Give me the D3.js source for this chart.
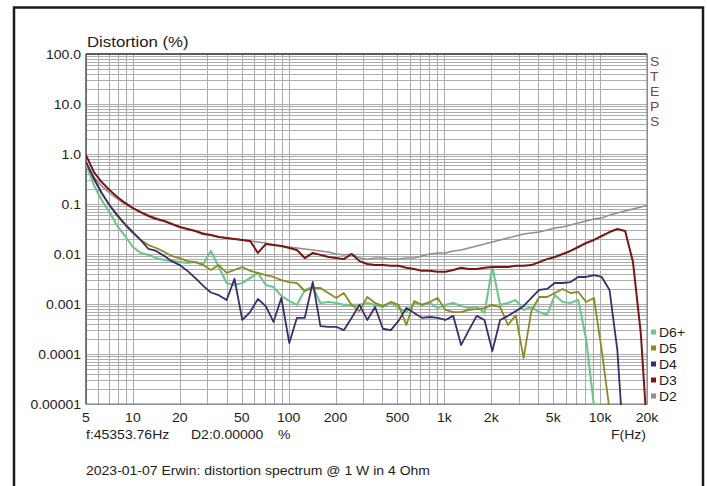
<!DOCTYPE html>
<html>
<head>
<meta charset="utf-8">
<script src="https://cdn.jsdelivr.net/npm/d3@7"></script>
<style>
  body { margin: 0; background: #fff; }
  svg text { font-family: "Liberation Sans", Arial, sans-serif; fill: #1c1c1c; }
</style>
</head>
<body>
<svg id="chart" width="707" height="486"></svg>
<script>
// NOTE: fundamental frequencies of the stepped sine (Hz)
const freqs = [5, 5.61, 6.30, 7.07, 7.94, 8.91, 10, 11.2, 12.6, 14.1, 15.9, 17.8, 20, 22.4, 25.2, 28.3, 31.7, 35.6, 40, 44.9,
  50.4, 56.6, 63.5, 71.3, 80, 89.8, 101, 113, 127, 143, 160, 180, 202, 226, 254, 285, 320, 359, 403, 453,
  508, 570, 640, 718, 806, 905, 1016, 1140, 1280, 1437, 1613, 1810, 2032, 2281, 2560, 2874, 3225, 3620, 4064, 4561,
  5120, 5747, 6451, 7241, 8127, 9123, 10240, 11494, 12902, 14482, 16255, 18246, 20480]

// NOTE: distortion per harmonic (%)
const d2 = [0.66, 0.35, 0.23, 0.166, 0.126, 0.10, 0.083, 0.069, 0.060, 0.0525,
  0.0457, 0.0398, 0.0347, 0.0316, 0.0288, 0.0263, 0.0240, 0.0219, 0.0209, 0.0200,
  0.0191, 0.0182, 0.0174, 0.0166, 0.0151, 0.0145, 0.0138, 0.0132, 0.0126, 0.0120,
  0.0115, 0.0110, 0.0100, 0.0096, 0.0100, 0.0083, 0.0079, 0.0083, 0.0083, 0.0079,
  0.0079, 0.0083, 0.0083, 0.0091, 0.0100, 0.0105, 0.0105, 0.0115, 0.0120, 0.0132,
  0.0145, 0.0158, 0.0174, 0.0191, 0.0209, 0.0229, 0.0251, 0.0263, 0.0275, 0.0302,
  0.0331, 0.0347, 0.0380, 0.0417, 0.0457, 0.0501, 0.0525, 0.060, 0.0661, 0.0724,
  0.0794, 0.0871, 0.0955]
const d3v = [0.95, 0.44, 0.275, 0.191, 0.138, 0.105, 0.083, 0.069, 0.0575, 0.0501,
  0.0457, 0.0398, 0.0347, 0.0316, 0.0288, 0.0251, 0.0240, 0.0219, 0.0209, 0.0200,
  0.0191, 0.0182, 0.0105, 0.0158, 0.0151, 0.0145, 0.0132, 0.0120, 0.0083, 0.0105,
  0.0096, 0.0087, 0.0083, 0.0079, 0.0100, 0.0072, 0.0063, 0.0060, 0.0060, 0.0058,
  0.0058, 0.0053, 0.0050, 0.0046, 0.0046, 0.0044, 0.0044, 0.0048, 0.0053, 0.0050,
  0.0050, 0.0053, 0.0055, 0.0055, 0.0055, 0.0058, 0.0058, 0.0060, 0.0069, 0.0079,
  0.0087, 0.0100, 0.0115, 0.0138, 0.0166, 0.0191, 0.0229, 0.0275, 0.0316, 0.0288,
  0.0069, 0.00026, 0.000001]
const d4 = [0.69, 0.331, 0.166, 0.0955, 0.060, 0.0398, 0.0275, 0.0191, 0.0126, 0.0115,
  0.0091, 0.0072, 0.0060, 0.0046, 0.0033, 0.0023, 0.0017, 0.0015, 0.0012, 0.0032,
  0.00048, 0.00069, 0.00126, 0.00091, 0.00044, 0.00132, 0.000166, 0.00053, 0.00053, 0.00275,
  0.00036, 0.00035, 0.00035, 0.00030, 0.00053, 0.00096, 0.00048, 0.00087, 0.00032, 0.00030,
  0.00046, 0.00083, 0.00066, 0.00053, 0.00055, 0.00053, 0.00048, 0.00058, 0.000151, 0.00030,
  0.00058, 0.00048, 0.000115, 0.00048, 0.00058, 0.00072, 0.00091, 0.00132, 0.00191, 0.0020,
  0.00263, 0.00263, 0.00275, 0.00347, 0.00347, 0.0038, 0.00347, 0.0019, 0.00012, 0.0000005,
  0.0000001, 0.0000001, 0.0000001]
const d5 = [0.69, 0.316, 0.166, 0.0955, 0.0575, 0.0380, 0.0263, 0.0191, 0.0151, 0.0132,
  0.0110, 0.0091, 0.0083, 0.0072, 0.0069, 0.0060, 0.0048, 0.0060, 0.0042, 0.0048,
  0.0055, 0.0046, 0.0042, 0.0038, 0.00347, 0.0030, 0.00275, 0.00263, 0.00182, 0.00209,
  0.00209, 0.00166, 0.00132, 0.00166, 0.00096, 0.00072, 0.00138, 0.00105, 0.00091, 0.0011,
  0.00096, 0.00038, 0.00115, 0.00096, 0.0011, 0.00132, 0.00076, 0.00069, 0.00069, 0.00076,
  0.00079, 0.00083, 0.00096, 0.00087, 0.00038, 0.0006, 0.000083, 0.00072, 0.00138, 0.00138,
  0.00166, 0.0020, 0.00166, 0.00174, 0.0011, 0.00132, 0.00012, 0.0000076, 0.0000001, 0.0000001,
  0.0000001, 0.0000001, 0.0000001]
const d6 = [0.63, 0.24, 0.12, 0.069, 0.0363, 0.0229, 0.0138, 0.0105, 0.0096, 0.0083,
  0.0076, 0.0072, 0.0069, 0.0066, 0.0069, 0.0063, 0.0115, 0.0055, 0.00263, 0.0024,
  0.00263, 0.00331, 0.00417, 0.0024, 0.00219, 0.00145, 0.00115, 0.00096, 0.00191, 0.00219,
  0.00105, 0.0011, 0.00105, 0.00096, 0.00096, 0.00096, 0.00105, 0.00096, 0.00087, 0.00105,
  0.00083, 0.00069, 0.00105, 0.00096, 0.00105, 0.00083, 0.00096, 0.00105, 0.00091, 0.00083,
  0.00087, 0.00066, 0.0055, 0.00096, 0.00105, 0.0012, 0.00076, 0.00087, 0.00069, 0.0006,
  0.00151, 0.0011, 0.00105, 0.0012, 0.0002, 0.0000095, 0.0000001, 0.0000001, 0.0000001, 0.0000001,
  0.0000001, 0.0000001, 0.0000001]

const legendNames = ['D6+', 'D5', 'D4', 'D3', 'D2']
const xTickValues = [5, 10, 20, 50, 100, 200, 500, 1000, 2000, 5000, 10000, 20000]
const xTickLabels = ['5', '10', '20', '50', '100', '200', '500', '1k', '2k', '5k', '10k', '20k']
const yTickValues = [100, 10, 1, 0.1, 0.01, 0.001, 0.0001, 0.00001]
const yTickLabels = ['100.0', '10.0', '1.0', '0.1', '0.01', '0.001', '0.0001', '0.00001']

const svg = d3.select('#chart')
const plotLeft = 86, plotRight = 647, plotTop = 54, plotBottom = 404
// NOTE: the original screenshot is a bit stretched horizontally
const SX = 1.12

const x = d3.scaleLog().domain([5, 20000]).range([plotLeft, plotRight])
const y = d3.scaleLog().domain([0.00001, 100]).range([plotBottom, plotTop])

const label = (str, px, py, size, anchor = 'start', fill = null) => {
  const t = svg.append('text')
    .attr('transform', `translate(${px},${py}) scale(${SX},1)`)
    .attr('text-anchor', anchor)
    .attr('font-size', size)
    .text(str)
  if (fill) t.style('fill', fill)
  return t
}

// NOTE: outer frame
svg.append('rect')
  .attr('x', 14).attr('y', 7.5).attr('width', 689).attr('height', 500)
  .attr('fill', 'none').attr('stroke', '#1a1a1a').attr('stroke-width', 2.5)

// NOTE: grid
const grid = svg.append('g')
grid.selectAll('line.gx').data(x.ticks()).join('line')
  .attr('class', 'gx')
  .attr('x1', d => Math.round(x(d)) + 0.5).attr('x2', d => Math.round(x(d)) + 0.5)
  .attr('y1', plotTop).attr('y2', plotBottom)
  .attr('stroke', '#ababab').attr('stroke-width', 1)
grid.selectAll('line.gy').data(y.ticks()).join('line')
  .attr('class', 'gy')
  .attr('x1', plotLeft).attr('x2', plotRight)
  .attr('y1', d => Math.round(y(d)) + 0.5).attr('y2', d => Math.round(y(d)) + 0.5)
  .attr('stroke', '#adadad').attr('stroke-width', 1)

svg.append('rect')
  .attr('x', plotLeft).attr('y', plotTop).attr('width', plotRight - plotLeft).attr('height', plotBottom - plotTop)
  .attr('fill', 'none').attr('stroke', '#777').attr('stroke-width', 1)
svg.append('line')
  .attr('x1', plotLeft).attr('x2', plotRight).attr('y1', plotTop).attr('y2', plotTop)
  .attr('stroke', '#444').attr('stroke-width', 1.5)
svg.append('line')
  .attr('x1', plotLeft).attr('x2', plotLeft).attr('y1', plotTop).attr('y2', plotBottom)
  .attr('stroke', '#555').attr('stroke-width', 1.2)

// NOTE: curves, clipped to the plot
svg.append('clipPath').attr('id', 'plot-clip')
  .append('rect')
  .attr('x', plotLeft).attr('y', plotTop).attr('width', plotRight - plotLeft).attr('height', plotBottom - plotTop + 1)

const line = d3.line().x(d => x(d.f)).y(d => y(d.v))
const curves = [
  { name: 'D2', values: d2, color: '#8e8e8e', width: 1.5 },
  { name: 'D6+', values: d6, color: '#6cc78c', width: 2.1 },
  { name: 'D5', values: d5, color: '#8c8a22', width: 1.8 },
  { name: 'D4', values: d4, color: '#3b2c6e', width: 1.8 },
  { name: 'D3', values: d3v, color: '#7c1414', width: 2 },
]
const curveGroup = svg.append('g').attr('clip-path', 'url(#plot-clip)')
curves.forEach(c => {
  curveGroup.append('path')
    .datum(freqs.map((f, i) => ({ f, v: c.values[i] })))
    .attr('d', line)
    .attr('fill', 'none')
    .attr('stroke', c.color)
    .attr('stroke-width', c.width)
    .attr('stroke-linejoin', 'round')
})

// NOTE: tick labels
xTickValues.forEach((v, i) => label(xTickLabels[i], x(v), 422, 12.5, 'middle'))
yTickValues.forEach((v, i) => label(yTickLabels[i], 81, y(v) + 4.5, 12.5, 'end'))

// NOTE: titles and footer
label('Distortion (%)', 87, 47, 15)
label('f:45353.76Hz', 86, 439, 12.5)
label('D2:0.00000', 191, 439, 12.5)
label('%', 278, 439, 12.5)
label('F(Hz)', 646, 439, 12.5, 'end')
label('2023-01-07 Erwin: distortion spectrum @ 1 W in 4 Ohm', 86, 475, 12.5)

// NOTE: STEPS written vertically
'STEPS'.split('').forEach((ch, i) => label(ch, 650, 66 + i * 15, 12.5, 'start', '#8a3c46'))

// NOTE: legend
const colorOf = name => curves.find(c => c.name === name).color
legendNames.forEach((name, i) => {
  const ly = 332 + i * 16
  svg.append('rect')
    .attr('x', 651).attr('y', ly - 2.5).attr('width', 5).attr('height', 5)
    .attr('fill', colorOf(name))
  label(name, 659, ly + 4.5, 12.5)
})
</script>
</body>
</html>
